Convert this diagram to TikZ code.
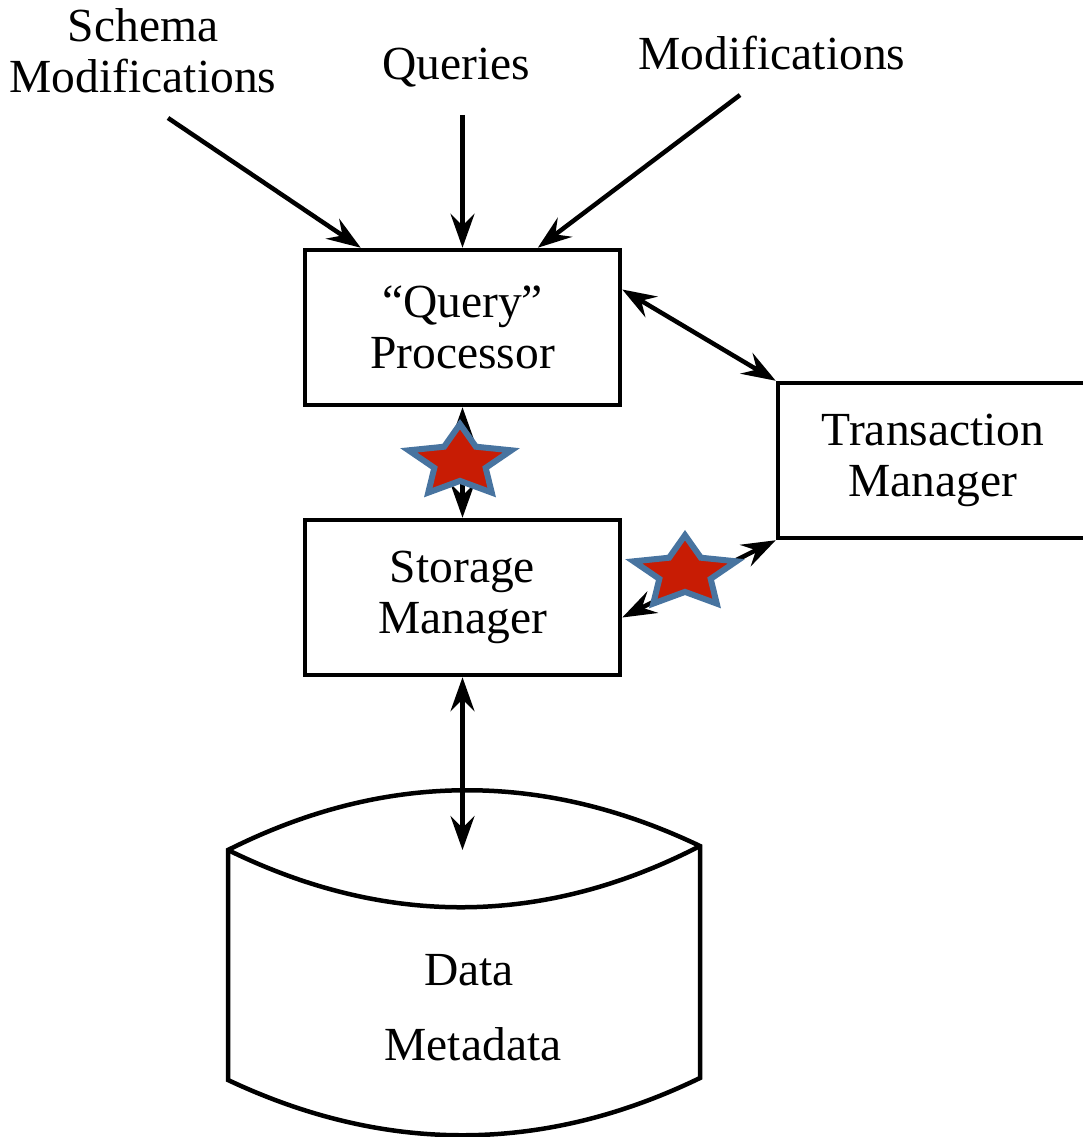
\documentclass[tikz,border=0pt]{standalone}
\usepackage{fontspec}
\setmainfont{Liberation Serif}
\usepackage{xcolor}
\usetikzlibrary{positioning,shapes,arrows.meta}
\definecolor{starred}{RGB}{200,28,4}
\definecolor{starblue}{RGB}{72,116,160}

\begin{document}
\begin{tikzpicture}[
    x=1pt, y=-1pt,
    font=\fontsize{47.5}{51}\selectfont,
    box/.style={
        rectangle, draw=black, line width=4.5pt,
        minimum width=315pt, minimum height=155pt,
        align=center, inner sep=0pt
    },
    lbl/.style={align=center, inner sep=0pt},
    arrow/.style={-{Stealth[length=34pt,width=24pt,inset=12pt]}, line width=4.5pt},
    dblarrow/.style={arrow, {Stealth[length=34pt,width=24pt,inset=12pt]}-{Stealth[length=34pt,width=24pt,inset=12pt]}},
    starmark/.style={
        star, star points=5, star point ratio=2.0,
        minimum size=108pt, inner sep=0pt,
        fill=starred, draw=starblue, line width=6pt
    },
    db/.style={line width=4.5pt, line join=miter}
]
\useasboundingbox (0,0) rectangle (1082,1137);

\node[lbl] (schema) at (143,51) {Schema\\Modifications};
\node[lbl, anchor=base] (queries) at (456,80) {Queries};
\node[lbl, anchor=base] (mods) at (772,70) {Modifications};

\node[box] (qproc) at (462.5,327.5) {“Query”\\Processor};
\node[box] (storage) at (462.5,597.5) {Storage\\Manager};
\node[box, minimum width=310pt] (trans) at (933,460.5) {Transaction\\Manager};

\coordinate (schemafrom) at (168,118);
\coordinate (queriesfrom) at (462.5,115);
\coordinate (modsfrom) at (740,95);
\coordinate (dbtip) at (462.5,850);

\draw[arrow] (schemafrom) -- ([xshift=58pt]qproc.north west);
\draw[arrow] (queriesfrom) -- (qproc.north);
\draw[arrow] (modsfrom) -- ([xshift=235pt]qproc.north west);

\draw[dblarrow] ([yshift=38pt]qproc.east) -- (trans.north west);
\draw[dblarrow] (qproc.south) -- (storage.north);
\draw[dblarrow] ([yshift=-20pt]storage.east) -- (trans.south west);
\draw[dblarrow] (storage.south) -- (dbtip);

\draw[db] (228,850) .. controls (385,771) and (543,771) .. (700,846) -- (700,1078)
    .. controls (543,1154) and (385,1154) .. (228,1080) -- cycle;
\draw[db] (228,850) .. controls (385,927) and (543,927) .. (700,846);
\node[lbl, anchor=base] (data) at (469,985) {Data};
\node[lbl, anchor=base] (meta) at (473,1060) {Metadata};

\begin{scope}[shift={(460,462)}, yscale=0.7]
\node[starmark, transform shape] (qsstar) at (0,0) {};
\end{scope}
\begin{scope}[shift={(685,573)}, yscale=0.7]
\node[starmark, transform shape] (smstar) at (0,0) {};
\end{scope}

\end{tikzpicture}
\end{document}
